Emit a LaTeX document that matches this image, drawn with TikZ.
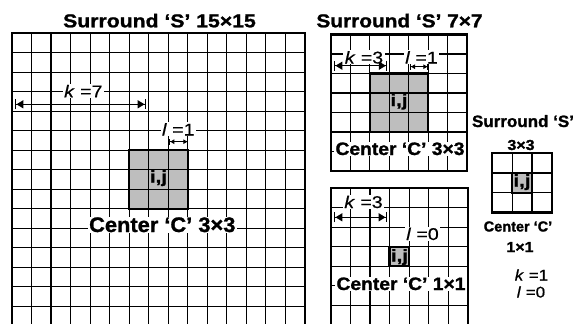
\documentclass[tikz,border=0pt]{standalone}
\usepackage{fontspec}
\setmainfont{Liberation Sans}[BoldFeatures={FakeBold=1.2}]
\newfontfamily\klfont{Liberation Sans}[FakeBold=0.5,ItalicFeatures={FakeBold=0.5}]
\usepackage{graphicx}
\usetikzlibrary{arrows.meta}
\definecolor{ctrgray}{RGB}{190,190,190}
\newcommand{\lbl}[3]{\scalebox{#2}[1]{\fontsize{#1}{#1}\selectfont #3}}
\newcommand{\kl}[3]{\scalebox{#2}[1]{\fontsize{#1}{#1}\klfont #3}}
\begin{document}
\begin{tikzpicture}[x=1pt,y=-1pt,
  gridline/.style={line width=1.2pt},
  frame/.style={line width=2.2pt},
  ctrbox/.style={line width=2.2pt},
  txt/.style={inner sep=0pt,anchor=base},
  halo/.style={txt,fill=white,inner xsep=1.5pt,inner ysep=0.8pt},
  dimbig/.style={line width=1.4pt,{Bar[width=10pt,line width=1.4pt]Triangle[length=7pt,width=8pt]}-{Triangle[length=7pt,width=8pt]Bar[width=10pt,line width=1.4pt]}},
  dimsmall/.style={line width=1pt,{Bar[width=6pt,line width=1pt]Triangle[length=4pt,width=4.5pt]}-{Triangle[length=4pt,width=4.5pt]Bar[width=6pt,line width=1pt]}}
]
\useasboundingbox (0,0) rectangle (582,324);
\clip (0,0) rectangle (582,324);
\fill[white] (0,0) rectangle (582,324);

% ---------- big grid 15x15 ----------
\begin{scope}[shift={(12,33.3)},x=19.53pt,y=-19.5pt]
  \fill[ctrgray] (6,6) rectangle (9,9);
  \foreach \i in {1,...,14} {
    \draw[gridline] (\i,0) -- (\i,15);
    \draw[gridline] (0,\i) -- (15,\i);
  }
  \draw[ctrbox] (6,6) rectangle (9,9);
  \draw[frame] (0,0) rectangle (15,15);
\end{scope}

% ---------- upper 7x7 grid ----------
\begin{scope}[shift={(330.7,34.5)},x=19.5pt,y=-19.5pt]
  \fill[ctrgray] (2,2) rectangle (5,5);
  \foreach \i in {1,...,6} {
    \draw[gridline] (\i,0) -- (\i,7);
    \draw[gridline] (0,\i) -- (7,\i);
  }
  \draw[ctrbox] (2,2) rectangle (5,5);
  \draw[frame] (0,0) rectangle (7,7);
\end{scope}

% ---------- lower 7x7 grid ----------
\begin{scope}[shift={(330.7,188.3)},x=19.6pt,y=-19.5pt]
  \fill[ctrgray] (3,3) rectangle (4,4);
  \foreach \i in {1,...,6} {
    \draw[gridline] (\i,0) -- (\i,7);
    \draw[gridline] (0,\i) -- (7,\i);
  }
  \draw[ctrbox] (3,3) rectangle (4,4);
  \draw[frame] (0,0) rectangle (7,7);
\end{scope}

% ---------- right 3x3 grid ----------
\begin{scope}[shift={(492.3,153.3)},x=19.8pt,y=-19.7pt]
  \fill[ctrgray] (1,1) rectangle (2,2);
  \foreach \i in {1,2} {
    \draw[gridline] (\i,0) -- (\i,3);
    \draw[gridline] (0,\i) -- (3,\i);
  }
  \draw[ctrbox] (1,1) rectangle (2,2);
  \draw[frame] (0,0) rectangle (3,3);
\end{scope}

% ---------- titles ----------
\node[txt] (t1) at (159.5,27.3) {\lbl{18.6}{1.14}{\bfseries Surround ‘S’ 15×15}};
\node[txt] (t2) at (399.5,27.3) {\lbl{18.6}{1.12}{\bfseries Surround ‘S’ 7×7}};

% ---------- big grid labels ----------
\coordinate (k7a) at (15,104.3);
\coordinate (k7b) at (146,104.3);
\draw[dimbig] (k7a) -- (k7b);
\node[halo] (k7) at (83.3,97.3) {\kl{17}{1.15}{\textit{k} =7}};
\coordinate (l1a) at (169.3,141.7);
\coordinate (l1b) at (188.3,141.7);
\draw[dimsmall] (l1a) -- (l1b);
\node[halo] (l1) at (178.3,135.5) {\kl{17}{1.15}{\textit{l} =1}};
\node[txt] (ij1) at (158.5,182.5) {\lbl{17}{1.2}{\bfseries i,j}};
\node[halo] (c1) at (162.3,232) {\lbl{21}{1.04}{\bfseries Center ‘C’ 3×3}};

% ---------- upper 7x7 labels ----------
\coordinate (k3a) at (334,65.7);
\coordinate (k3b) at (387.3,65.7);
\node[halo] (k3) at (364,63.5) {\kl{17}{1.15}{\textit{k} =3}};
\draw[dimbig] (k3a) -- (k3b);
\coordinate (l1ua) at (410,66.7);
\coordinate (l1ub) at (428.3,66.7);
\node[halo] (l1u) at (421.5,63.5) {\kl{17}{1.15}{\textit{l} =1}};
\draw[dimsmall] (l1ua) -- (l1ub);
\node[txt] (ij2) at (399,106) {\lbl{17}{1.2}{\bfseries i,j}};
\node[halo] (c2) at (400,155) {\lbl{18}{1.07}{\bfseries Center ‘C’ 3×3}};

% ---------- lower 7x7 labels ----------
\coordinate (k3la) at (334,217.3);
\coordinate (k3lb) at (387,217.3);
\node[halo] (k3l) at (363.5,208) {\kl{17}{1.15}{\textit{k} =3}};
\draw[dimbig] (k3la) -- (k3lb);
\node[halo] (l0) at (422.5,240) {\kl{17}{1.15}{\textit{l} =0}};
\node[txt] (ij3) at (399.5,261.5) {\lbl{17}{1.2}{\bfseries i,j}};
\node[halo] (c3) at (401,290) {\lbl{18}{1.07}{\bfseries Center ‘C’ 1×1}};

% ---------- right 3x3 labels ----------
\node[txt] (t3) at (523,127) {\lbl{16.5}{1.03}{\bfseries Surround ‘S’}};
\node[txt] (t3b) at (521,150) {\lbl{14.5}{1.1}{\bfseries 3×3}};
\node[txt] (ij4) at (522,186.5) {\lbl{17}{1.2}{\bfseries i,j}};
\node[txt] (c4) at (518,231.5) {\lbl{14.5}{1.0}{\bfseries Center ‘C’}};
\node[txt] (c4b) at (520,252) {\lbl{14.5}{1.1}{\bfseries 1×1}};
\node[txt] (k1) at (531.5,280.5) {\kl{15.5}{1.1}{\textit{k} =1}};
\node[txt] (l0r) at (531,297.5) {\kl{15.5}{1.1}{\textit{l} =0}};
\end{tikzpicture}
\end{document}
